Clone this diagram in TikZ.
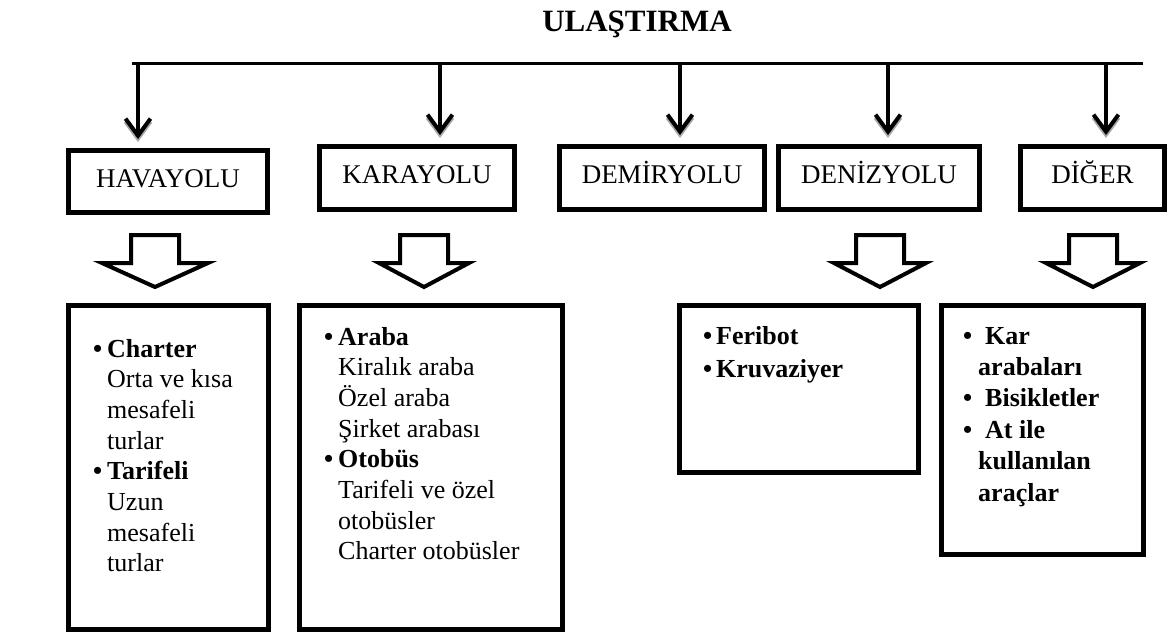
\documentclass[tikz,border=0pt]{standalone}
\usepackage{fontspec}
\setmainfont{Liberation Serif}
\usetikzlibrary{arrows.meta}
\newcommand{\blockarr}[2]{%
  \draw[barrow] ({#1-24},235) -- ({#1+24},235) -- ({#1+24},263) -- ({#1+#2},263)
    -- (#1,287) -- ({#1-#2},263) -- ({#1-24},263) -- cycle;}
\newcommand{\bul}[1]{\makebox[#1][l]{\textbf{•}}}
\begin{document}
\begin{tikzpicture}[x=1pt,y=-1pt,
  box/.style={draw,line width=5pt,inner sep=0pt},
  lab/.style={font=\fontsize{27pt}{30pt}\selectfont,text height=19pt,text depth=8pt},
  thinarr/.style={line width=4pt,-{Straight Barb[length=17pt,width=25pt]},shorten >=9pt},
  shadowarr/.style={thinarr,black!35,transform canvas={yshift=-3pt}},
  barrow/.style={draw,line width=4pt,fill=white,line join=miter},
  body/.style={anchor=base west,inner sep=0pt,font=\fontsize{26pt}{30.7pt}\selectfont}]
\useasboundingbox (0,0) rectangle (1171,635);
\fill[white] (0,0) rectangle (1171,635);

% title
\node[anchor=base,inner sep=0pt,font=\fontsize{31pt}{36pt}\selectfont\bfseries] (title) at (637,31) {ULAŞTIRMA};

% distribution line
\coordinate (L) at (132,63);
\coordinate (R) at (1143,63);
\draw[line width=3pt] (L) -- (R);

% top boxes
\node[box,lab,minimum width=199pt,minimum height=62pt] (hava)  at (168,181.5) {HAVAYOLU};
\node[box,lab,minimum width=195pt,minimum height=63pt] (kara)  at (417,178)   {KARAYOLU};
\node[box,lab,minimum width=205pt,minimum height=63pt] (demir) at (662,178)   {DEMİRYOLU};
\node[box,lab,minimum width=201pt,minimum height=63pt] (deniz) at (879,178)   {DENİZYOLU};
\node[box,lab,minimum width=144pt,minimum height=63pt] (diger) at (1092.5,178) {DİĞER};

% arrows from the line
\coordinate (t1) at (138,63);
\coordinate (t2) at (440,63);
\coordinate (t3) at (680,63);
\coordinate (t4) at (888,63);
\coordinate (t5) at (1106,63);
\draw[shadowarr] (t1) -- (t1 |- hava.north);
\draw[shadowarr] (t2) -- (t2 |- kara.north);
\draw[shadowarr] (t3) -- (t3 |- demir.north);
\draw[shadowarr] (t4) -- (t4 |- deniz.north);
\draw[shadowarr] (t5) -- (t5 |- diger.north);
\draw[thinarr] (t1) -- (t1 |- hava.north);
\draw[thinarr] (t2) -- (t2 |- kara.north);
\draw[thinarr] (t3) -- (t3 |- demir.north);
\draw[thinarr] (t4) -- (t4 |- deniz.north);
\draw[thinarr] (t5) -- (t5 |- diger.north);

% hollow block arrows
\blockarr{155}{53}
\blockarr{424}{45}
\blockarr{880}{46}
\blockarr{1093}{47}

% bottom boxes
\node[box,minimum width=200pt,minimum height=324pt] (havaB)  at (168.5,467.5) {};
\node[box,minimum width=263pt,minimum height=324pt] (karaB)  at (431,467.5)   {};
\node[box,minimum width=239pt,minimum height=167pt] (denizB) at (799,389)     {};
\node[box,minimum width=202pt,minimum height=249pt] (digerB) at (1042.5,430)  {};

% texts
\node[body] (havaT) at (93,357) {\parbox[t]{175pt}{\raggedright
  \bul{14pt}\textbf{Charter}\\
  \hspace*{14pt}Orta ve kısa\\
  \hspace*{14pt}mesafeli\\
  \hspace*{14pt}turlar\\
  \bul{14pt}\textbf{Tarifeli}\\
  \hspace*{14pt}Uzun\\
  \hspace*{14pt}mesafeli\\
  \hspace*{14pt}turlar}};

\node[body] (karaT) at (324,345) {\parbox[t]{235pt}{\raggedright
  \bul{14pt}\textbf{Araba}\\
  \hspace*{14pt}Kiralık araba\\
  \hspace*{14pt}Özel araba\\
  \hspace*{14pt}Şirket arabası\\
  \bul{14pt}\textbf{Otobüs}\\
  \hspace*{14pt}Tarifeli ve özel\\
  \hspace*{14pt}otobüsler\\
  \hspace*{14pt}Charter otobüsler}};

\node[body] (denizT) at (703,344) {\parbox[t]{205pt}{\raggedright\bfseries
  \bul{13pt}Feribot\\[2.3pt]
  \bul{13pt}Kruvaziyer}};

\node[body,font=\fontsize{26pt}{31.4pt}\selectfont] (digerT) at (963,344) {\parbox[t]{178pt}{\raggedright\bfseries
  \bul{22pt}Kar\\
  \hspace*{15pt}arabaları\\
  \bul{22pt}Bisikletler\\
  \bul{22pt}At ile\\
  \hspace*{15pt}kullanılan\\
  \hspace*{15pt}araçlar}};
\end{tikzpicture}
\end{document}
